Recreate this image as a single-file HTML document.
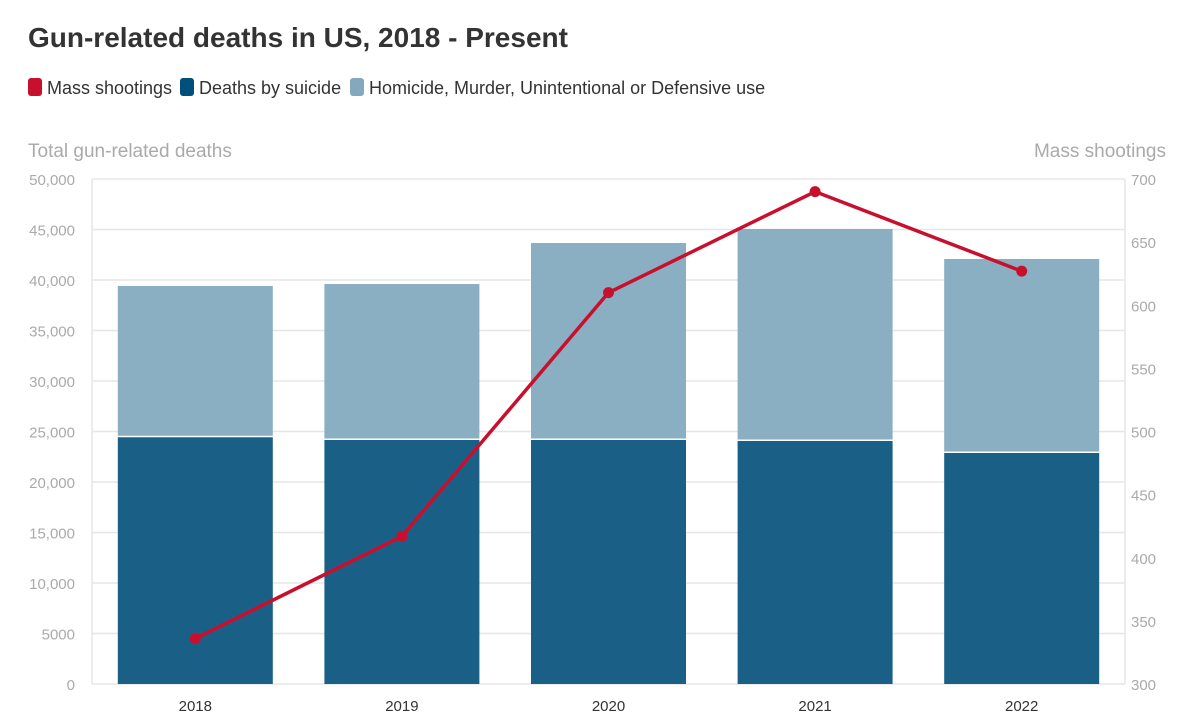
<!DOCTYPE html>
<html><head><meta charset="utf-8"><style>
body{margin:0;background:#fff;font-family:"Liberation Sans",sans-serif;}
svg text{font-family:"Liberation Sans",sans-serif;}
</style></head><body>
<svg id="c" width="1199" height="720">
<text x="28" y="47" font-size="28" font-weight="bold" fill="#333">Gun-related deaths in US, 2018 - Present</text>
<g>
<rect x="28" y="78" width="14" height="18" rx="3" fill="#c8102e"/>
<text x="47" y="94" font-size="18" fill="#333">Mass shootings</text>
<rect x="180" y="78" width="14" height="18" rx="3" fill="#00507a"/>
<text x="199" y="94" font-size="18" fill="#333">Deaths by suicide</text>
<rect x="350" y="78" width="14" height="18" rx="3" fill="#84a9bf"/>
<text x="369" y="94" font-size="18" fill="#333">Homicide, Murder, Unintentional or Defensive use</text>
</g>
<text x="28" y="157" font-size="19" fill="#aaa">Total gun-related deaths</text>
<text x="1166" y="157" font-size="19" fill="#aaa" text-anchor="end">Mass shootings</text>
<g id="g"></g>
</svg>
<script>
const years=["2018","2019","2020","2021","2022"];
const suicide=[24430,24160,24160,24060,22870];
const homicide=[14980,15440,19500,20990,19210];
const mass=[336,417,610,690,627];
const leftTicks=[0,5000,10000,15000,20000,25000,30000,35000,40000,45000,50000];
const rightTicks=[300,350,400,450,500,550,600,650,700];
const NS="http://www.w3.org/2000/svg";
const g=document.getElementById('g');
const X0=92,X1=1125,Y0=684,Y1=179;
const yL=v=>Y0-(v/50000)*(Y0-Y1);
const yR=v=>Y0-((v-300)/400)*(Y0-Y1);
const step=(X1-X0)/years.length;
const xc=i=>X0+step*(i+0.5);
const bw=155;
function mk(t,a){const e=document.createElementNS(NS,t);for(const k in a)e.setAttribute(k,a[k]);g.appendChild(e);return e;}
leftTicks.forEach(t=>{
 const l=mk('line',{x1:X0,x2:X1,y1:yL(t),y2:yL(t),stroke:'#e6e6e6','stroke-width':1.5});
 
 
 const tx=mk('text',{x:75,y:yL(t)+6,'font-size':15,fill:'#aaa','text-anchor':'end'});
 tx.textContent=t>=10000?t.toLocaleString('en-US'):String(t);
 
 
});
rightTicks.forEach(t=>{
 const tx=mk('text',{x:1131,y:yR(t)+6,'font-size':15,fill:'#aaa'});
 tx.textContent=t;
 
 
});
const al=mk('line',{x1:X0,x2:X0,y1:Y1,y2:Y0,stroke:'#e6e6e6','stroke-width':1.5});


const ar=mk('line',{x1:X1,x2:X1,y1:Y1,y2:Y0,stroke:'#e6e6e6','stroke-width':1.5});


years.forEach((y,i)=>{
 const s=mk('rect',{x:xc(i)-bw/2,y:yL(suicide[i]),width:bw,height:Y0-yL(suicide[i]),fill:'#1a6086'});
 
 
 const tot=suicide[i]+homicide[i];
 const h=mk('rect',{x:xc(i)-bw/2,y:yL(tot),width:bw,height:yL(suicide[i])-yL(tot)-1.5,fill:'#8aaec2'});
 
 
 const tx=mk('text',{x:xc(i),y:711,'font-size':15,fill:'#333','text-anchor':'middle'});
 tx.textContent=y;
 
 
});
const pl=mk('polyline',{points:mass.map((v,i)=>xc(i)+','+yR(v)).join(' '),fill:'none',stroke:'#c8102e','stroke-width':3.5});


mass.forEach((v,i)=>{
 const c=mk('circle',{cx:xc(i),cy:yR(v),r:5.5,fill:'#c8102e'});
 
 
});
</script>
</body></html>
